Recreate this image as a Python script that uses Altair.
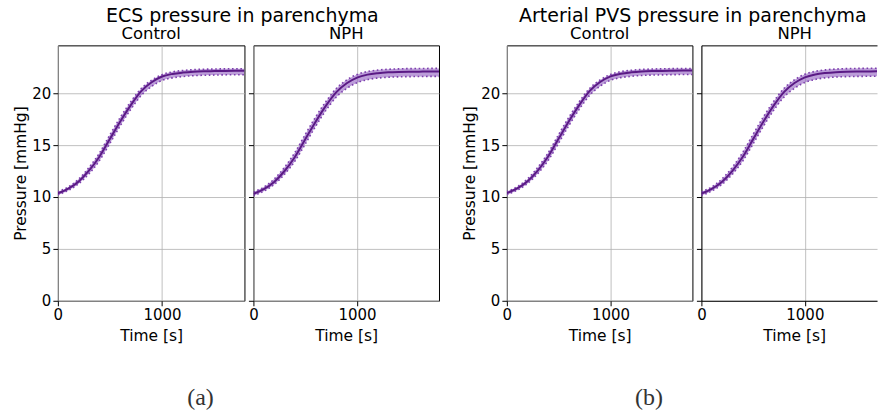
import altair as alt
import pandas as pd

# ---------------- data ----------------
time_s = [0, 100, 200, 300, 400, 500, 600, 700, 800, 900, 1000,
          1100, 1200, 1300, 1400, 1500, 1600, 1700, 1790]

# (a) ECS pressure in parenchyma
ecs_control_mean = [10.35, 10.80, 11.50, 12.55, 13.90, 15.60, 17.30, 18.85, 20.20, 21.05, 21.60,
                    21.85, 21.98, 22.06, 22.10, 22.12, 22.14, 22.15, 22.15]
ecs_control_hi = [10.50, 10.97, 11.72, 12.85, 14.25, 16.00, 17.68, 19.18, 20.45, 21.25, 21.78,
                  22.05, 22.18, 22.26, 22.30, 22.32, 22.34, 22.35, 22.35]
ecs_control_lo = [10.20, 10.63, 11.28, 12.25, 13.52, 15.18, 16.88, 18.45, 19.78, 20.65, 21.22,
                  21.47, 21.60, 21.68, 21.72, 21.74, 21.76, 21.77, 21.77]

ecs_nph_mean = [10.30, 10.75, 11.45, 12.50, 13.85, 15.55, 17.25, 18.80, 20.10, 20.95, 21.50,
                21.78, 21.92, 22.00, 22.04, 22.06, 22.07, 22.08, 22.08]
ecs_nph_hi = [10.48, 10.95, 11.72, 12.85, 14.28, 16.02, 17.70, 19.20, 20.45, 21.27, 21.80,
              22.08, 22.22, 22.30, 22.34, 22.36, 22.37, 22.38, 22.38]
ecs_nph_lo = [10.12, 10.55, 11.20, 12.18, 13.45, 15.10, 16.80, 18.35, 19.62, 20.45, 21.00,
              21.30, 21.45, 21.53, 21.57, 21.59, 21.60, 21.61, 21.61]

# (b) Arterial PVS pressure in parenchyma
pvs_control_mean = [10.37, 10.82, 11.52, 12.57, 13.92, 15.62, 17.32, 18.87, 20.22, 21.07, 21.62,
                    21.87, 22.00, 22.08, 22.12, 22.14, 22.16, 22.17, 22.17]
pvs_control_hi = [10.52, 10.99, 11.74, 12.87, 14.27, 16.02, 17.70, 19.20, 20.47, 21.27, 21.80,
                  22.07, 22.20, 22.28, 22.32, 22.34, 22.36, 22.37, 22.37]
pvs_control_lo = [10.22, 10.65, 11.30, 12.27, 13.54, 15.20, 16.90, 18.47, 19.80, 20.67, 21.24,
                  21.49, 21.62, 21.70, 21.74, 21.76, 21.78, 21.79, 21.79]

pvs_nph_mean = [10.32, 10.77, 11.47, 12.52, 13.87, 15.57, 17.27, 18.82, 20.12, 20.97, 21.52,
                21.80, 21.94, 22.02, 22.06, 22.08, 22.09, 22.10, 22.10]
pvs_nph_hi = [10.50, 10.97, 11.74, 12.87, 14.30, 16.04, 17.72, 19.22, 20.47, 21.29, 21.82,
              22.10, 22.24, 22.32, 22.36, 22.38, 22.39, 22.40, 22.40]
pvs_nph_lo = [10.14, 10.57, 11.22, 12.20, 13.47, 15.12, 16.82, 18.37, 19.64, 20.47, 21.02,
              21.32, 21.47, 21.55, 21.59, 21.61, 21.62, 21.63, 21.63]

x_ticks = [0, 1000]
y_ticks = [0, 5, 10, 15, 20]

FONT = "DejaVu Sans"
MEAN_COLOR = "#5a1a85"
BAND_COLOR = "#8f5cc0"
EDGE_COLOR = "#7d3fae"
PANEL_H = 256


def panel(mean, lo, hi, title, left, width, xmax, title_dx=0, truncated=False):
    df = pd.DataFrame({"t": time_s, "mean": mean, "lo": lo, "hi": hi})
    xscale = alt.Scale(domain=[0, xmax], nice=False, zero=False)
    yscale = alt.Scale(domain=[0, 24.6], nice=False)
    xaxis_kw = dict(values=x_ticks, title="Time [s]", labelFlush=False, format="d",
                    titlePadding=6)
    if truncated:
        xaxis_kw.update(domain=True, domainColor="black", domainWidth=1, titleX=93)
    xaxis = alt.Axis(**xaxis_kw)
    yaxis_kw = dict(values=y_ticks, labels=left, title="Pressure [mmHg]" if left else None,
                    titlePadding=3)
    if truncated:
        yaxis_kw.update(domain=True, domainColor="black", domainWidth=1)
    yaxis = alt.Axis(**yaxis_kw)

    base = alt.Chart(df)
    band = base.mark_area(color=BAND_COLOR, opacity=0.6, clip=True,
                          interpolate="monotone").encode(
        x=alt.X("t:Q", scale=xscale, axis=xaxis),
        y=alt.Y("lo:Q", scale=yscale, axis=yaxis),
        y2="hi:Q",
    )
    other_x = alt.X("t:Q", scale=xscale, axis=None if truncated else xaxis)
    lines = []
    for field in ["lo", "hi"]:
        lines.append(base.mark_line(color=EDGE_COLOR, strokeWidth=1.6, strokeDash=[1.6, 2.6],
                                    clip=True, interpolate="monotone").encode(
            x=other_x, y=alt.Y(f"{field}:Q", scale=yscale, axis=yaxis)))
    mean_line = base.mark_line(color=MEAN_COLOR, strokeWidth=2, clip=True,
                               interpolate="monotone").encode(
        x=other_x, y=alt.Y("mean:Q", scale=yscale, axis=yaxis))
    layers = [band] + lines + [mean_line]
    if truncated:
        top = base.mark_line(opacity=0, clip=True).encode(
            x=alt.X("t:Q", scale=xscale,
                    axis=alt.Axis(orient="top", labels=False, ticks=False, grid=False,
                                  domain=True, domainColor="black", domainWidth=1, title=None)),
            y=alt.Y("mean:Q", scale=yscale, axis=yaxis))
        layers.append(top)
    ch = alt.layer(*layers).properties(
        width=width, height=PANEL_H,
        title=alt.TitleParams(title, fontSize=16.5, font=FONT, fontWeight="normal",
                              offset=-10, baseline="alphabetic", dx=title_dx, color="black"),
    )
    if truncated:
        ch = ch.resolve_axis(x="independent").properties(
            view=alt.ViewBackground(stroke="transparent"))
    return ch


ctrl_a = panel(ecs_control_mean, ecs_control_lo, ecs_control_hi, "Control", True, 187, 1790)
nph_a = panel(ecs_nph_mean, ecs_nph_lo, ecs_nph_hi, "NPH", False, 186, 1790)
ctrl_b = panel(pvs_control_mean, pvs_control_lo, pvs_control_hi, "Control", True, 186, 1790)
nph_b = panel(pvs_nph_mean, pvs_nph_lo, pvs_nph_hi, "NPH", False, 176, 1697,
              title_dx=5.5, truncated=True)

inner_a = alt.hconcat(ctrl_a, nph_a, spacing=9, bounds="flush",
                      title=alt.TitleParams("ECS pressure in parenchyma", fontSize=19, font=FONT,
                                            fontWeight="normal", anchor="middle",
                                            baseline="alphabetic", offset=-16, dx=16,
                                            color="black"))
inner_b = alt.hconcat(ctrl_b, nph_b, spacing=9, bounds="flush",
                      title=alt.TitleParams("Arterial PVS pressure in parenchyma", fontSize=19,
                                            font=FONT, fontWeight="normal", anchor="middle",
                                            baseline="alphabetic", offset=-16,
                                            dx=23, color="black"))

fig_a = alt.vconcat(inner_a, title=alt.TitleParams("(a)", orient="bottom", font="Liberation Serif",
                                                   fontSize=24, fontWeight="normal",
                                                   anchor="middle", offset=41, dx=-26,
                                                   color="#333333"))
fig_b = alt.vconcat(inner_b, title=alt.TitleParams("(b)", orient="bottom", font="Liberation Serif",
                                                   fontSize=24, fontWeight="normal",
                                                   anchor="middle", offset=41, dx=-21,
                                                   color="#333333"))

chart = alt.hconcat(fig_a, fig_b, spacing=22).properties(
    padding={"left": 13, "top": 7, "right": 0, "bottom": 0}
).configure_view(
    stroke="black", strokeWidth=1
).configure_axis(
    labelFont=FONT, labelFontSize=15, labelColor="black",
    titleFont=FONT, titleFontSize=15.5, titleFontWeight="normal", titleColor="black",
    tickColor="black", tickSize=5, tickWidth=1, labelPadding=2,
    gridColor="#b0b0b0", gridWidth=0.8, gridOpacity=1, domain=False,
).configure_title(font=FONT, fontWeight="normal", color="black")

chart.save("out.html", embed_options={"renderer": "svg", "actions": False})
